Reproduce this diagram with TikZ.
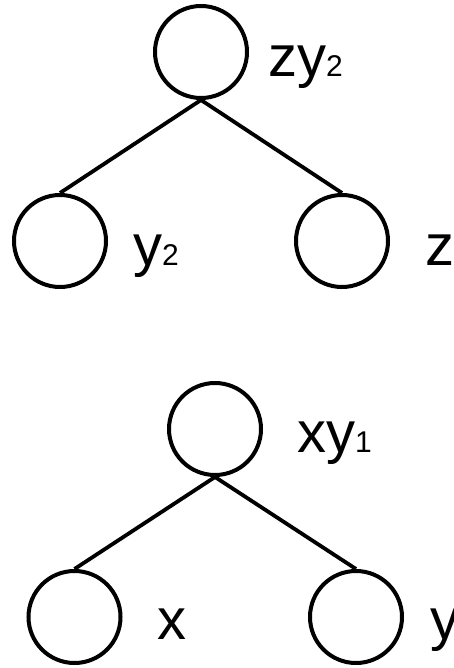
\documentclass[tikz,border=0pt]{standalone}
\usepackage{fontspec}
\setmainfont{Liberation Sans}
\newcommand\lowidx[1]{{\fontsize{30}{30}\selectfont #1}}
\begin{document}
\begin{tikzpicture}[x=1pt,y=-1pt,
  vertex/.style={draw, circle, line width=4pt, minimum size=92pt, inner sep=0pt},
  lbl/.style={anchor=base west, inner sep=0pt, font=\fontsize{58}{60}\selectfont},
  edge/.style={line width=3.8pt}]
 \useasboundingbox (0,0) rectangle (453,668);
 % upper tree
 \node[vertex] (zy) at (201,52) {};
 \node[vertex] (ytwo) at (60,241) {};
 \node[vertex] (z) at (342,241) {};
 \node[lbl] (zylbl) at (268,77) {zy\lowidx{2}};
 \node[lbl] (ytwolbl) at (133,265) {y\lowidx{2}};
 \node[lbl] (zlbl) at (425,265) {z};
 \draw[edge] (zy.south) -- (ytwo.north);
 \draw[edge] (zy.south) -- (z.north);
 % lower tree
 \node[vertex] (xy) at (215,429) {};
 \node[vertex] (x) at (74.5,617) {};
 \node[vertex] (y) at (356,617) {};
 \node[lbl] (xylbl) at (297,452) {xy\lowidx{1}};
 \node[lbl] (xlbl) at (157,639) {x};
 \node[lbl] (ylbl) at (430,639) {y};
 \draw[edge] (xy.south) -- (x.north);
 \draw[edge] (xy.south) -- (y.north);
\end{tikzpicture}
\end{document}
